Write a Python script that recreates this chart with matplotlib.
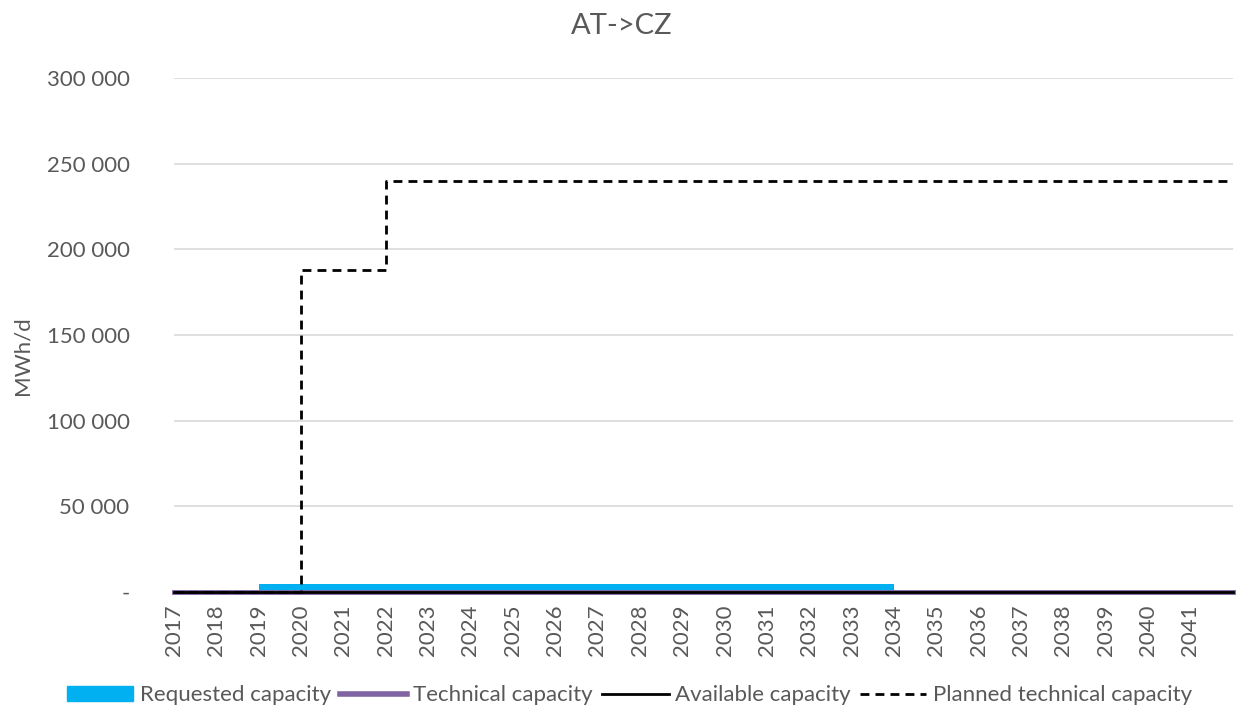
import matplotlib.pyplot as plt
import matplotlib.ticker as mticker
from matplotlib.patches import Patch
from matplotlib.lines import Line2D

plt.rcParams['font.family'] = ['Lato', 'DejaVu Sans']

# yearly values (MWh/d), each value holds from that year to the next
years = list(range(2017, 2042))
requested = [0, 0] + [4500] * 15 + [0] * 8
technical = [0] * 25
available = [0] * 25
planned = [0, 0, 0, 187900, 187900] + [240000] * 20

grey = '#595959'
dash = (0, (3.2, 2.2))

fig = plt.figure(figsize=(12.39, 7.11), dpi=100)
ax = fig.add_axes([0.1404, 0.1674, 0.8546, 0.7226])

# extend the last step to the end of 2041
x = years + [2042]
ax.fill_between(x, requested + [requested[-1]], step='post', color='#00B0F0', lw=0, zorder=2)
ax.step(x, technical + [technical[-1]], where='post', color='#8064A2', lw=3.5, clip_on=False, zorder=3)
ax.step(x, available + [available[-1]], where='post', color='black', lw=2, clip_on=False, zorder=4)
ax.step(x, planned + [planned[-1]], where='post', color='black', lw=2, ls=dash, clip_on=False, zorder=5)

ax.set_xlim(2017, 2042)
ax.set_ylim(0, 300000)
ax.set_xticks(years)
ax.set_xticklabels([str(y) for y in years], rotation=90, fontsize=16.5)
ax.set_yticks(range(0, 300001, 50000))
ax.yaxis.set_major_formatter(mticker.FuncFormatter(
    lambda v, p: '-' if v == 0 else f'{int(v):,}'.replace(',', ' ')))
ax.tick_params(length=0, labelsize=16, labelcolor=grey, pad=9)
ax.tick_params(axis='y', pad=32)
ax.grid(axis='y', color='#d9d9d9', lw=1.2, zorder=0)
ax.set_axisbelow(True)
for s in ax.spines.values():
    s.set_visible(False)

fig.text(0.018, 0.5, 'MWh/d', rotation=90, fontsize=16, color=grey, ha='center', va='center')
fig.text(0.502, 0.963, 'AT->CZ', fontsize=21, color=grey, ha='center', va='center')

handles = [Patch(color='#00B0F0'),
           Line2D([], [], color='#8064A2', lw=4),
           Line2D([], [], color='black', lw=2),
           Line2D([], [], color='black', lw=2, ls=dash)]
labels = ['Requested capacity', 'Technical capacity', 'Available capacity', 'Planned technical capacity']
fig.legend(handles, labels, loc='center', bbox_to_anchor=(0.508, 0.022), ncol=4, frameon=False,
           fontsize=16, labelcolor=grey, handlelength=3.0, handleheight=0.6,
           handletextpad=0.3, columnspacing=0.4)

fig.savefig('out.png', dpi=100)
